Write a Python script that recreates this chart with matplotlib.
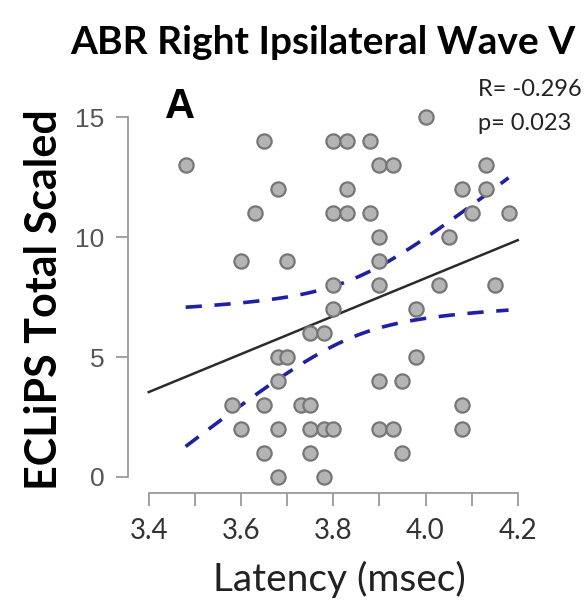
import numpy as np
import matplotlib
matplotlib.use('Agg')
import matplotlib.pyplot as plt
from matplotlib.ticker import MultipleLocator

# latency (msec) vs ECLiPS score
latency = [3.48, 3.65, 3.80, 3.83, 3.88, 3.68, 3.83, 3.90, 3.93, 3.63,
           3.80, 3.83, 3.88, 3.90, 4.00, 4.13, 4.08, 4.13, 4.10, 4.18,
           4.05, 3.60, 3.70, 3.80, 3.80, 3.75, 3.78, 3.68, 3.70, 3.68,
           3.58, 3.65, 3.73, 3.75, 3.60, 3.68, 3.75, 3.78, 3.80, 3.65,
           3.75, 3.68, 3.78, 3.90, 3.90, 4.03, 4.15, 3.98, 3.98, 3.90,
           3.95, 4.08, 3.90, 3.93, 4.08, 3.95]
eclips = [13, 14, 14, 14, 14, 12, 12, 13, 13, 11,
          11, 11, 11, 10, 15, 13, 12, 12, 11, 11,
          10, 9, 9, 8, 7, 6, 6, 5, 5, 4,
          3, 3, 3, 3, 2, 2, 2, 2, 2, 1,
          1, 0, 0, 9, 8, 8, 8, 7, 5, 4,
          4, 3, 2, 2, 2, 1]

# regression line as drawn in the figure (value at 3.4 and slope per msec)
fitAt34 = 3.54
fitSlope = 7.92

titleText = 'ABR Right Ipsilateral Wave V'
statsText = 'R= -0.296\np= 0.023'
panelLabel = 'A'

x = np.array(latency)
y = np.array(eclips)

# 95% confidence band of the mean around the line
n = len(x)
icpt = fitAt34 - fitSlope * 3.4
resid = y - (fitSlope * x + icpt)
s = np.sqrt(np.sum(resid ** 2) / (n - 2))
tval = 2.005
xLine = np.linspace(3.4, 4.2, 50)
xBand = np.linspace(x.min(), x.max(), 50)
yBand = fitSlope * xBand + icpt
se = s * np.sqrt(1.0 / n + (xBand - x.mean()) ** 2 / np.sum((x - x.mean()) ** 2))

fig = plt.figure(figsize=(5.87, 6.03), dpi=100)
ax = fig.add_axes([0.218, 0.1824, 0.672, 0.643])

spineColor = '#9a9a9a'
ax.scatter(x, y, s=105, facecolor='#b4b4b4', edgecolor='#767676', linewidths=1.6, zorder=3)
ax.plot(xLine, fitSlope * xLine + icpt, color='#2b2b2b', lw=1.8, zorder=2)
ax.plot(xBand, yBand + tval * se, color='#1f1fa8', lw=2.6, ls=(0, (4.5, 3.5)), zorder=2)
ax.plot(xBand, yBand - tval * se, color='#1f1fa8', lw=2.6, ls=(0, (4.5, 3.5)), zorder=2)

ax.set_xlim(3.355, 4.21)
ax.set_ylim(-0.67, 15.5)
ax.spines['top'].set_visible(False)
ax.spines['right'].set_visible(False)
ax.spines['left'].set_bounds(0, 15)
ax.spines['bottom'].set_bounds(3.4, 4.2)
for sp in ['left', 'bottom']:
    ax.spines[sp].set_color(spineColor)
    ax.spines[sp].set_linewidth(1.3)

ax.set_yticks([0, 5, 10, 15])
ax.set_xticks([3.4, 3.6, 3.8, 4.0, 4.2])
ax.set_xticklabels(['3.4', '3.6', '3.8', '4.0', '4.2'])
ax.xaxis.set_minor_locator(MultipleLocator(0.1))
ax.tick_params(axis='y', direction='out', length=9, width=1.3, color=spineColor,
               labelsize=19, labelcolor='#555555', pad=8)
ax.tick_params(axis='x', which='both', direction='out', length=9, width=1.3, color=spineColor,
               labelsize=20, labelcolor='#333333', pad=9)
for lbl in ax.get_yticklabels():
    lbl.set_family('Liberation Sans')
for lbl in ax.get_xticklabels():
    lbl.set_family('Lato')

ax.set_xlabel('Latency (msec)', fontsize=28, family='Lato', color='#222222')
ax.xaxis.set_label_coords(0.537, -0.224)
ax.xaxis.label.set_va('center')
ax.set_ylabel('ECLiPS Total Scaled', fontsize=31, family='Lato', weight='bold', labelpad=8)

fig.text(0.55, 0.93, titleText, ha='center', va='center', fontsize=28, family='Lato', weight='bold')
fig.text(0.814, 0.824, statsText, ha='left', va='center', fontsize=17, family='Lato',
         color='#222222', linespacing=1.75)
ax.text(0.094, 0.995, panelLabel, transform=ax.transAxes, ha='left', va='center',
        fontsize=30, family='Liberation Sans', weight='bold')

plt.savefig('out.png', dpi=100)
plt.close()
